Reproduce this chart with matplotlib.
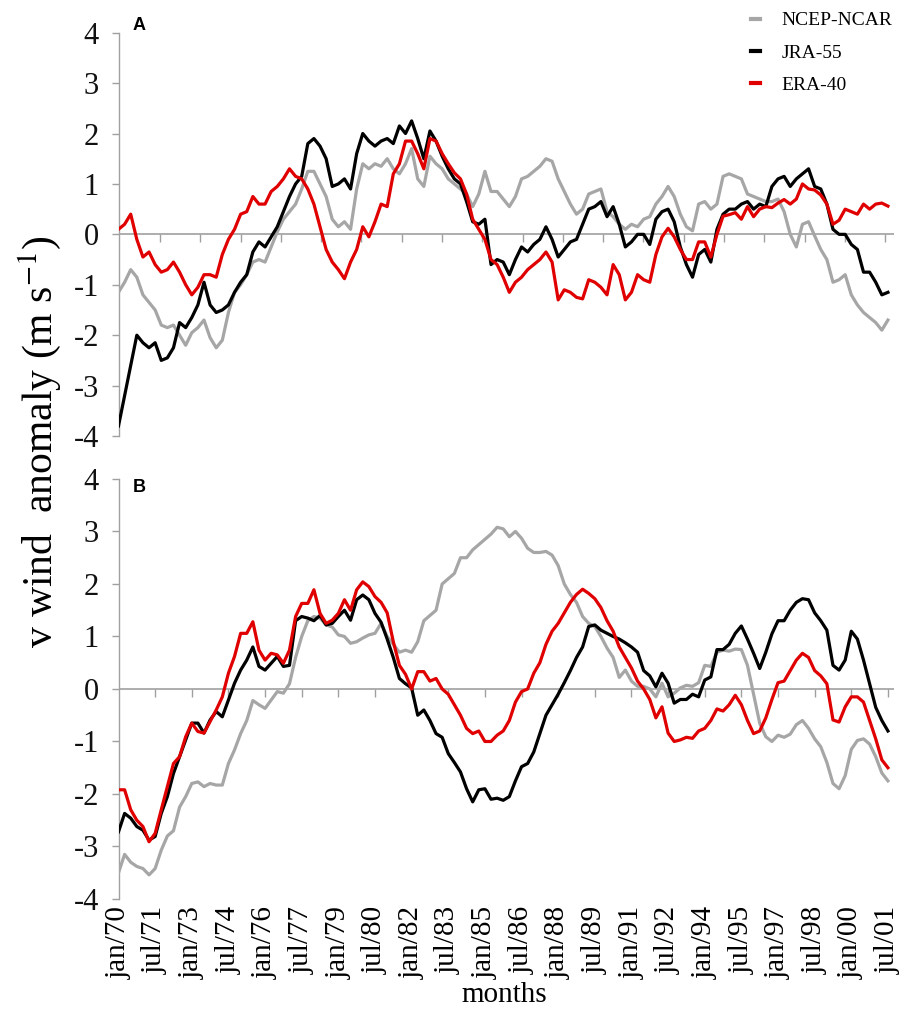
import matplotlib
matplotlib.use("Agg")
import matplotlib.pyplot as plt
from matplotlib.lines import Line2D
import numpy as np

plt.rcParams['font.family'] = ['Liberation Serif', 'DejaVu Serif']
plt.rcParams['mathtext.fontset'] = 'stix'

# 3-monthly samples, starting jan/1970
# panel A
NCEP_A = [-1.15, -0.95, -0.7, -0.85, -1.2, -1.35, -1.5, -1.8, -1.85, -1.8,
          -2.0, -2.2, -1.95, -1.85, -1.7, -2.05, -2.25, -2.1, -1.55, -1.15,
          -1.0, -0.8, -0.55, -0.5, -0.55, -0.25, 0.05, 0.3, 0.45, 0.6,
          0.9, 1.25, 1.25, 1.0, 0.75, 0.3, 0.15, 0.25, 0.1, 0.9,
          1.4, 1.3, 1.4, 1.35, 1.5, 1.3, 1.2, 1.4, 1.7, 1.1,
          0.95, 1.55, 1.4, 1.3, 1.1, 1.0, 0.9, 0.8, 0.55, 0.8,
          1.25, 0.85, 0.85, 0.7, 0.55, 0.75, 1.1, 1.15, 1.25, 1.35,
          1.5, 1.45, 1.1, 0.85, 0.6, 0.4, 0.5, 0.8, 0.85, 0.9,
          0.45, 0.35, 0.2, 0.1, 0.2, 0.15, 0.3, 0.35, 0.6, 0.75,
          0.95, 0.75, 0.4, 0.15, 0.07, 0.6, 0.65, 0.5, 0.6, 1.15,
          1.2, 1.15, 1.1, 0.8, 0.75, 0.7, 0.65, 0.65, 0.7, 0.45,
          0.0, -0.25, 0.2, 0.25, -0.03, -0.3, -0.5, -0.95, -0.9, -0.8,
          -1.2, -1.4, -1.55, -1.65, -1.75, -1.9, -1.7]
JRA_A = [-3.8, -3.2, -2.6, -2.0, -2.15, -2.25, -2.15, -2.5, -2.45, -2.25,
         -1.75, -1.85, -1.65, -1.4, -0.95, -1.4, -1.55, -1.5, -1.4, -1.15,
         -0.95, -0.8, -0.35, -0.15, -0.25, -0.05, 0.15, 0.45, 0.75, 1.0,
         1.15, 1.8, 1.9, 1.75, 1.5, 0.95, 1.0, 1.1, 0.9, 1.6,
         2.0, 1.85, 1.75, 1.85, 1.9, 1.8, 2.15, 2.0, 2.25, 1.9,
         1.5, 2.05, 1.85, 1.55, 1.3, 1.1, 1.0, 0.65, 0.25, 0.2,
         0.3, -0.6, -0.5, -0.55, -0.8, -0.5, -0.25, -0.35, -0.2, -0.1,
         0.15, -0.1, -0.45, -0.3, -0.15, -0.1, 0.2, 0.5, 0.55, 0.65,
         0.35, 0.55, 0.2, -0.25, -0.15, 0.0, 0.0, -0.2, 0.3, 0.45,
         0.5, 0.25, -0.25, -0.6, -0.85, -0.4, -0.3, -0.55, 0.1, 0.4,
         0.5, 0.5, 0.6, 0.65, 0.5, 0.6, 0.55, 0.95, 1.1, 1.15,
         0.95, 1.1, 1.2, 1.3, 0.95, 0.9, 0.6, 0.1, 0.0, 0.0,
         -0.2, -0.3, -0.75, -0.75, -0.95, -1.2, -1.15]
ERA_A = [0.1, 0.2, 0.4, -0.1, -0.45, -0.35, -0.6, -0.75, -0.7, -0.55,
         -0.75, -1.0, -1.2, -1.05, -0.8, -0.8, -0.85, -0.4, -0.1, 0.1,
         0.4, 0.45, 0.75, 0.6, 0.6, 0.85, 0.95, 1.1, 1.3, 1.15,
         1.1, 0.9, 0.6, 0.15, -0.3, -0.55, -0.7, -0.88, -0.55, -0.3,
         0.15, -0.05, 0.25, 0.6, 0.55, 1.2, 1.4, 1.85, 1.85, 1.6,
         1.3, 1.9, 1.85, 1.6, 1.4, 1.22, 1.1, 0.8, 0.3, 0.1,
         -0.1, -0.5, -0.6, -0.85, -1.15, -0.95, -0.85, -0.7, -0.6, -0.5,
         -0.35, -0.55, -1.3, -1.1, -1.15, -1.25, -1.28, -0.9, -0.95, -1.05,
         -1.2, -0.6, -0.8, -1.3, -1.15, -0.8, -0.9, -0.95, -0.4, -0.05,
         0.12, -0.05, -0.3, -0.5, -0.5, -0.15, -0.15, -0.45, 0.0, 0.36,
         0.39, 0.43, 0.3, 0.55, 0.35, 0.5, 0.55, 0.53, 0.62, 0.69,
         0.6, 0.7, 1.0, 0.9, 0.88, 0.78, 0.6, 0.2, 0.28, 0.5,
         0.45, 0.4, 0.6, 0.5, 0.6, 0.62, 0.56]

# panel B
NCEP_B = [-3.5, -3.15, -3.3, -3.38, -3.42, -3.54, -3.42, -3.07, -2.8, -2.7,
          -2.25, -2.05, -1.8, -1.77, -1.86, -1.8, -1.83, -1.83, -1.42, -1.16,
          -0.85, -0.6, -0.22, -0.3, -0.37, -0.21, -0.05, -0.08, 0.1, 0.6,
          1.0, 1.3, 1.38, 1.35, 1.22, 1.18, 1.03, 1.0, 0.87, 0.9,
          0.97, 1.03, 1.06, 1.25, 1.0, 0.85, 0.7, 0.74, 0.7, 0.9,
          1.3, 1.4, 1.5, 2.0, 2.1, 2.2, 2.5, 2.5, 2.65, 2.75,
          2.85, 2.95, 3.08, 3.05, 2.9, 3.0, 2.87, 2.68, 2.6, 2.6,
          2.62, 2.55, 2.35, 2.0, 1.8, 1.65, 1.38, 1.25, 1.19, 1.0,
          0.78, 0.6, 0.22, 0.36, 0.15, 0.05, 0.05, 0.0, -0.15, 0.11,
          -0.15, -0.08, 0.02, 0.07, 0.05, 0.12, 0.45, 0.43, 0.7, 0.74,
          0.72, 0.76, 0.75, 0.45, -0.1, -0.65, -0.91, -1.0, -0.88, -0.92,
          -0.86, -0.68, -0.6, -0.75, -0.95, -1.1, -1.4, -1.8, -1.9, -1.65,
          -1.15, -0.98, -0.95, -1.05, -1.29, -1.6, -1.75]
JRA_B = [-2.72, -2.37, -2.46, -2.62, -2.69, -2.88, -2.81, -2.37, -2.05, -1.61,
         -1.29, -0.97, -0.65, -0.65, -0.84, -0.59, -0.43, -0.53, -0.21, 0.11,
         0.36, 0.55, 0.8, 0.43, 0.36, 0.49, 0.62, 0.43, 0.45, 1.3,
         1.38, 1.35, 1.3, 1.4, 1.22, 1.25, 1.38, 1.5, 1.31, 1.7,
         1.79, 1.7, 1.44, 1.27, 0.95, 0.6, 0.2, 0.1, 0.02, -0.5,
         -0.4, -0.6, -0.85, -0.92, -1.23, -1.4, -1.58, -1.9, -2.15, -1.92,
         -1.9, -2.1, -2.08, -2.12, -2.05, -1.75, -1.48, -1.42, -1.2, -0.85,
         -0.5, -0.3, -0.1, 0.12, 0.35, 0.6, 0.8, 1.19, 1.22, 1.12,
         1.06, 1.0, 0.95, 0.88, 0.8, 0.7, 0.35, 0.25, 0.04, 0.3,
         0.11, -0.27, -0.2, -0.2, -0.1, -0.15, 0.17, 0.23, 0.75, 0.75,
         0.85, 1.06, 1.2, 0.95, 0.68, 0.39, 0.7, 1.05, 1.3, 1.3,
         1.5, 1.65, 1.72, 1.7, 1.45, 1.3, 1.12, 0.45, 0.36, 0.55,
         1.1, 0.95, 0.55, 0.1, -0.35, -0.6, -0.8]
ERA_B = [-1.92, -1.92, -2.3, -2.5, -2.62, -2.91, -2.75, -2.3, -1.86, -1.42,
         -1.29, -0.91, -0.65, -0.81, -0.84, -0.62, -0.4, -0.15, 0.3, 0.62,
         1.06, 1.06, 1.28, 0.74, 0.55, 0.68, 0.65, 0.49, 0.74, 1.38,
         1.63, 1.63, 1.89, 1.44, 1.25, 1.31, 1.44, 1.7, 1.5, 1.89,
         2.04, 1.95, 1.76, 1.65, 1.45, 0.9, 0.45, 0.28, 0.0, 0.33,
         0.33, 0.15, 0.2, 0.0, -0.1, -0.3, -0.5, -0.75, -0.85, -0.8,
         -1.0, -1.0, -0.88, -0.8, -0.6, -0.25, -0.05, 0.0, 0.3, 0.5,
         0.85, 1.1, 1.25, 1.45, 1.65, 1.8, 1.9, 1.82, 1.72, 1.55,
         1.3, 1.1, 0.8, 0.6, 0.4, 0.15, 0.0, -0.2, -0.55, -0.34,
         -0.84, -1.0, -0.97, -0.92, -0.94, -0.8, -0.75, -0.6, -0.38, -0.42,
         -0.3, -0.12, -0.3, -0.6, -0.85, -0.8, -0.55, -0.2, 0.12, 0.15,
         0.35, 0.55, 0.68, 0.6, 0.35, 0.25, 0.1, -0.59, -0.63, -0.34,
         -0.15, -0.15, -0.25, -0.6, -0.95, -1.35, -1.5]

MONTH_LABELS = ["jan/70", "jul/71", "jan/73", "jul/74", "jan/76", "jul/77",
                "jan/79", "jul/80", "jan/82", "jul/83", "jan/85", "jul/86",
                "jan/88", "jul/89", "jan/91", "jul/92", "jan/94", "jul/95",
                "jan/97", "jul/98", "jan/00", "jul/01"]

SERIES = ["NCEP-NCAR", "JRA-55", "ERA-40"]
COLOURS = {"NCEP-NCAR": "#a6a6a6", "JRA-55": "black", "ERA-40": "#e00000"}
AXIS_GREY = "#a0a0a0"


def months_of(values):
    return np.arange(len(values)) * 3


def setupPanel(ax, zero_ticks):
    ax.set_xlim(0, 381)
    ax.set_ylim(-4, 4)
    ax.set_yticks(range(-4, 5))
    ax.set_yticklabels([str(v) for v in range(-4, 5)])
    for side in ["top", "right", "bottom"]:
        ax.spines[side].set_visible(False)
    ax.spines["left"].set_color(AXIS_GREY)
    ax.spines["left"].set_linewidth(1.0)
    ax.tick_params(axis="y", direction="out", length=5, width=1.0,
                   color=AXIS_GREY, labelsize=22, pad=9, labelcolor="#111111")
    ax.axhline(0, color=AXIS_GREY, lw=1.2, zorder=1)
    ax.plot(zero_ticks, np.zeros(len(zero_ticks)), ls="none", marker=3,
            ms=6, mew=1.0, color=AXIS_GREY, zorder=1)


fig = plt.figure(figsize=(9.06, 10.18), dpi=100)
axA = fig.add_axes([0.1308, 0.5717, 0.856, 0.3962])
axB = fig.add_axes([0.1308, 0.1169, 0.856, 0.4126])

setupPanel(axA, np.linspace(20.4, 376.6, 19))
setupPanel(axB, np.arange(18, 379, 18))

for name, vals in zip(SERIES, [NCEP_A, JRA_A, ERA_A]):
    axA.plot(months_of(vals), vals, color=COLOURS[name], lw=2.3, zorder=3)
for name, vals in zip(SERIES, [NCEP_B, JRA_B, ERA_B]):
    axB.plot(months_of(vals), vals, color=COLOURS[name], lw=2.3, zorder=3)

axA.set_xticks([])
axB.set_xticks(np.arange(len(MONTH_LABELS)) * 18)
axB.set_xticklabels(MONTH_LABELS, rotation=90, fontsize=21)
axB.tick_params(axis="x", length=0, pad=5)

fig.text(0.154, 1 - 25 / 1018, "A", family="Liberation Sans",
         fontweight="bold", fontsize=13, ha="center", va="center")
fig.text(0.154, 1 - 487 / 1018, "B", family="Liberation Sans",
         fontweight="bold", fontsize=13, ha="center", va="center")

fig.text(0.044, 1 - 442 / 1018, "v wind  anomaly (m s$^{-1}$)", rotation=90,
         fontsize=30, ha="center", va="center")
fig.text(0.557, 1 - 995 / 1018, "months", fontsize=21,
         ha="center", va="center")

handles = [Line2D([], [], color=COLOURS[s], lw=3) for s in SERIES]
fig.legend(handles, SERIES, loc="upper left", bbox_to_anchor=(0.822, 1 - 6 / 1018),
           frameon=False, fontsize=14, handlelength=0.5, handletextpad=1.1,
           labelspacing=0.75, borderpad=0.1, borderaxespad=0.2)

fig.savefig("out.png", dpi=100)
